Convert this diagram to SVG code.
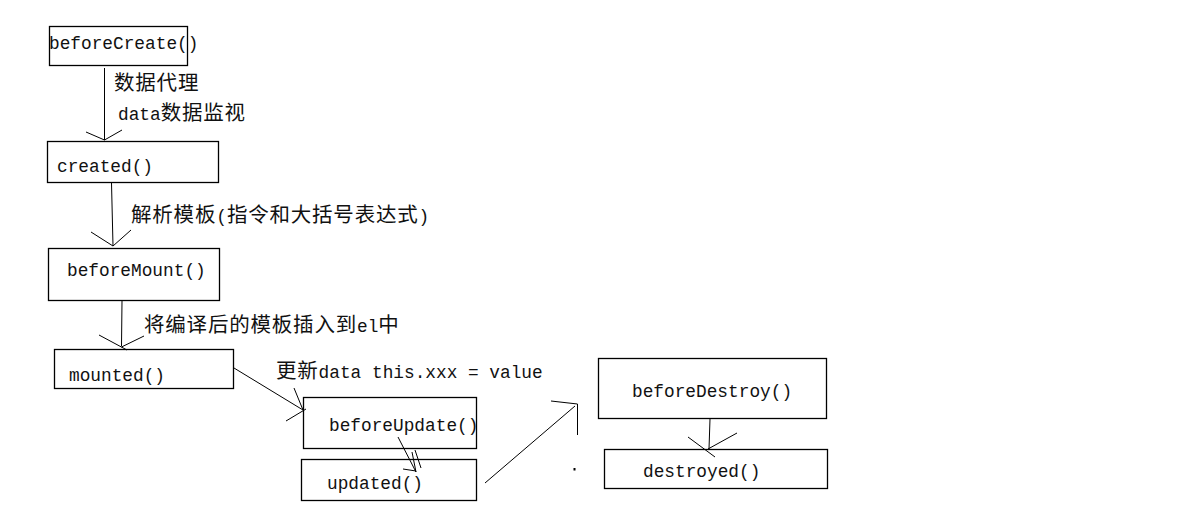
<svg xmlns="http://www.w3.org/2000/svg" width="1188" height="525" viewBox="0 0 1188 525">
<style>
rect.box{fill:none;stroke:#000;stroke-width:1.3}
.t{font-family:"Liberation Mono","DejaVu Sans Mono",monospace;font-size:17.8px;fill:#111}
.c{font-family:"Noto Sans CJK SC","Noto Sans CJK JP",sans-serif;font-size:20.5px;letter-spacing:0.8px}
#connectors line,#connectors rect{stroke:#000;stroke-width:1;fill:none}
</style>
<rect width="1188" height="525" fill="#fff"/>
<g id="beforeCreate"><rect class="box" x="49.5" y="26.5" width="138" height="39"/><text class="t" x="49" y="49">beforeCreate()</text></g>
<g id="created"><rect class="box" x="47.5" y="141.5" width="171" height="41"/><text class="t" x="57" y="172">created()</text></g>
<g id="beforeMount"><rect class="box" x="48.5" y="248.5" width="171" height="52"/><text class="t" x="67" y="276">beforeMount()</text></g>
<g id="mounted"><rect class="box" x="54.5" y="349.5" width="179" height="39"/><text class="t" x="69" y="381">mounted()</text></g>
<g id="beforeUpdate"><rect class="box" x="303.5" y="397.5" width="173" height="51"/><text class="t" x="329" y="431">beforeUpdate()</text></g>
<g id="updated"><rect class="box" x="301.5" y="459.5" width="175" height="41"/><text class="t" x="327" y="489">updated()</text></g>
<g id="beforeDestroy"><rect class="box" x="598.5" y="358.5" width="228" height="60"/><text class="t" x="632" y="397">beforeDestroy()</text></g>
<g id="destroyed"><rect class="box" x="604.5" y="449.5" width="223" height="39"/><text class="t" x="643" y="477">destroyed()</text></g>
<g id="labels">
<text class="t" x="114" y="90"><tspan class="c">数据代理</tspan></text>
<text class="t" x="118" y="120">data<tspan class="c">数据监视</tspan></text>
<text class="t" x="131" y="222"><tspan class="c">解析模板</tspan>(<tspan class="c">指令和大括号表达式</tspan>)</text>
<text class="t" x="144" y="332"><tspan class="c">将编译后的模板插入到</tspan>el<tspan class="c">中</tspan></text>
<text class="t" x="276" y="378"><tspan class="c">更新</tspan>data this.xxx = value</text>
</g>
<g id="connectors">
<line x1="104.5" y1="68" x2="104.5" y2="140"/><line x1="86" y1="132" x2="104.5" y2="140"/><line x1="122" y1="130" x2="104.5" y2="140"/>
<line x1="111.5" y1="183" x2="113" y2="246"/><line x1="91" y1="232" x2="113" y2="246"/><line x1="131" y1="230" x2="113" y2="246"/>
<line x1="122" y1="301" x2="121.5" y2="346"/><line x1="99" y1="335" x2="127" y2="350"/><line x1="144" y1="336" x2="121.5" y2="347"/>
<line x1="234" y1="368" x2="303" y2="410"/><line x1="294" y1="388" x2="303" y2="410"/><line x1="286" y1="421" x2="306" y2="409"/>
<line x1="398" y1="437" x2="416" y2="472"/><line x1="403" y1="469" x2="416" y2="471"/><line x1="412" y1="452" x2="416" y2="472"/><line x1="415" y1="450" x2="421" y2="468"/>
<line x1="485" y1="483" x2="575" y2="406"/><line x1="551" y1="401" x2="577.5" y2="404"/><line x1="577.5" y1="404" x2="577.5" y2="435"/><rect x="574" y="468.5" width="1" height="1.5" fill="#000" stroke="none"/>
<line x1="710" y1="419" x2="709" y2="449"/><line x1="688" y1="437" x2="715" y2="457"/><line x1="737" y1="433" x2="708" y2="449"/>
</g>
</svg>
